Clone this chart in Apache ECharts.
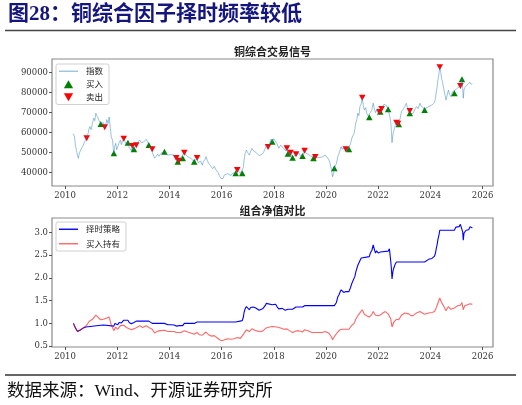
<!DOCTYPE html>
<html><head><meta charset="utf-8">
<script src="https://cdn.jsdelivr.net/npm/echarts@6/dist/echarts.min.js"></script>
<style>html,body{margin:0;padding:0;background:#fff}#c{width:522px;height:405px}</style>
</head><body><div id="c"></div>
<script>
// ---- data ----
const xTicks = [2010, 2012, 2014, 2016, 2018, 2020, 2022, 2024, 2026];
const priceTicks = [40000, 50000, 60000, 70000, 80000, 90000];
const navTicks = [0.5, 1.0, 1.5, 2.0, 2.5, 3.0];

const idxDates = [2010.32,2010.36,2010.40,2010.44,2010.48,2010.51,2010.55,2010.60,2010.65,2010.70,2010.75,2010.80,2010.83,2010.88,2010.92,2010.95,2011.00,2011.05,2011.10,2011.14,2011.18,2011.22,2011.27,2011.32,2011.37,2011.42,2011.47,2011.52,2011.56,2011.60,2011.65,2011.69,2011.73,2011.77,2011.82,2011.85,2011.87,2011.91,2011.94,2011.98,2012.02,2012.07,2012.12,2012.16,2012.20,2012.25,2012.30,2012.35,2012.41,2012.46,2012.50,2012.54,2012.58,2012.64,2012.68,2012.73,2012.78,2012.82,2012.86,2012.92,2012.97,2013.01,2013.06,2013.11,2013.16,2013.21,2013.27,2013.34,2013.38,2013.43,2013.48,2013.55,2013.60,2013.68,2013.74,2013.81,2013.87,2013.94,2014.00,2014.06,2014.12,2014.18,2014.22,2014.26,2014.32,2014.38,2014.44,2014.51,2014.57,2014.62,2014.70,2014.76,2014.82,2014.88,2014.95,2015.02,2015.06,2015.10,2015.14,2015.20,2015.26,2015.30,2015.36,2015.40,2015.45,2015.50,2015.56,2015.60,2015.66,2015.72,2015.78,2015.81,2015.86,2015.90,2015.94,2015.98,2016.02,2016.06,2016.10,2016.16,2016.23,2016.28,2016.36,2016.42,2016.48,2016.54,2016.60,2016.65,2016.72,2016.79,2016.83,2016.86,2016.90,2016.95,2017.00,2017.06,2017.11,2017.16,2017.21,2017.25,2017.31,2017.38,2017.44,2017.51,2017.57,2017.63,2017.67,2017.71,2017.78,2017.84,2017.90,2017.94,2018.00,2018.07,2018.12,2018.19,2018.26,2018.32,2018.38,2018.44,2018.50,2018.54,2018.60,2018.64,2018.68,2018.72,2018.78,2018.85,2018.90,2018.95,2019.02,2019.10,2019.18,2019.25,2019.33,2019.40,2019.46,2019.52,2019.59,2019.66,2019.72,2019.78,2019.85,2019.92,2019.97,2020.04,2020.10,2020.16,2020.20,2020.25,2020.29,2020.32,2020.36,2020.40,2020.45,2020.50,2020.54,2020.58,2020.62,2020.68,2020.72,2020.76,2020.82,2020.88,2020.94,2020.99,2021.03,2021.08,2021.11,2021.14,2021.18,2021.22,2021.26,2021.30,2021.35,2021.39,2021.43,2021.47,2021.52,2021.56,2021.61,2021.66,2021.70,2021.76,2021.81,2021.86,2021.90,2021.94,2022.00,2022.05,2022.10,2022.14,2022.18,2022.22,2022.27,2022.32,2022.38,2022.43,2022.48,2022.51,2022.53,2022.57,2022.60,2022.65,2022.70,2022.75,2022.79,2022.84,2022.89,2022.95,2023.02,2023.08,2023.12,2023.17,2023.21,2023.26,2023.30,2023.34,2023.40,2023.47,2023.53,2023.60,2023.65,2023.69,2023.74,2023.78,2023.85,2023.93,2024.00,2024.06,2024.11,2024.16,2024.20,2024.22,2024.26,2024.29,2024.33,2024.36,2024.40,2024.43,2024.47,2024.51,2024.55,2024.60,2024.64,2024.69,2024.74,2024.79,2024.85,2024.92,2024.98,2025.05,2025.10,2025.15,2025.21,2025.24,2025.26,2025.29,2025.32,2025.37,2025.42,2025.47,2025.52,2025.56,2025.61];
const idxValues = [59500,58000,53500,51000,48500,47200,49800,51300,50500,53800,55500,54800,57200,59500,62000,63000,61500,64700,67200,66000,69700,68500,67200,65500,64300,63500,65000,62700,64000,66500,64500,67800,63000,58000,56300,52000,49700,53500,54700,51500,52000,55000,56300,54000,55800,57000,55500,54000,55000,52500,53200,51000,53300,51700,52800,53700,55000,54200,56300,55000,54300,55300,54800,56700,55500,53850,52500,51700,49000,47200,48000,49200,48200,49700,49200,50500,49700,48800,49500,49000,48200,48800,47800,47300,45500,46200,47500,47200,50000,49000,48000,48600,47200,46500,45500,46000,47300,45000,44700,45800,43800,45500,46500,48000,46200,44700,43800,43000,42000,43200,41500,41000,40200,38800,38000,37000,37800,37200,38800,38000,39500,38800,38600,39800,39200,39700,41300,40500,39800,39700,42500,46300,49500,51300,50000,48800,50500,52200,51000,51500,50200,49700,48500,48000,49500,50800,52000,53800,52800,54500,56800,55500,57000,56700,54500,52200,53800,53300,52000,51000,52200,49400,49800,50000,48500,47500,48500,49200,48800,50200,48500,48300,51000,49500,49200,48500,47800,47200,47800,47000,47600,48200,47800,48400,48800,48000,46800,44500,42200,38000,39500,42200,43500,44500,48000,49500,51300,53000,51800,51200,52300,51700,51200,51700,54500,57200,58500,59700,62000,64700,66500,69700,68500,73000,74500,77500,73500,71300,72500,69700,68500,67700,70000,71500,74700,71500,70000,71300,69700,70200,71000,72000,73000,74200,74700,73500,71700,69000,65500,60000,55000,59500,61000,63500,65000,63800,64200,67000,70500,71500,73000,74700,72500,72000,70800,69500,68800,69700,71500,73000,72000,74700,73200,73000,72300,71300,72500,73000,72800,73800,74500,75200,77500,79700,83000,86300,89500,92700,90000,87000,85000,82000,79500,76300,78500,81300,79000,78000,80500,79700,81500,82500,81800,83300,86700,82000,77200,81500,82500,83200,84000,83500,85200,84200,84500];

const buyDates = [2011.37,2011.87,2012.41,2012.64,2013.21,2013.81,2014.32,2014.51,2014.95,2016.54,2016.79,2017.94,2018.54,2018.72,2019.10,2019.52,2020.32,2020.88,2021.66,2022.08,2022.38,2022.79,2023.21,2023.78,2024.92,2025.21];
const buyValues = [64300,49700,55000,51700,53850,50500,45500,47200,45500,39700,39700,55500,49400,47500,48300,47200,42200,51700,67700,70500,71700,64200,69700,71300,79700,86700];

const sellDates = [2010.83,2011.52,2012.25,2012.58,2012.73,2013.34,2014.26,2014.36,2014.57,2015.06,2016.60,2017.78,2018.50,2018.64,2018.85,2019.18,2019.59,2020.76,2021.39,2022.05,2022.13,2022.70,2022.76,2023.21,2024.36,2025.15];
const sellValues = [57200,62700,57000,53300,53700,51700,47300,46000,50000,47300,41300,52800,52200,50000,49200,51000,47800,51700,77500,70300,71800,65000,64400,70800,92700,83300];

const stratDates = [2010.32,2010.36,2010.40,2010.44,2010.48,2010.51,2010.55,2010.60,2010.65,2010.70,2010.75,2010.80,2010.83,2011.37,2011.42,2011.47,2011.52,2011.87,2011.91,2011.94,2011.98,2012.02,2012.07,2012.12,2012.16,2012.20,2012.25,2012.41,2012.46,2012.50,2012.54,2012.58,2012.64,2012.68,2012.73,2013.21,2013.27,2013.34,2013.81,2013.87,2013.94,2014.00,2014.06,2014.12,2014.18,2014.26,2014.32,2014.38,2014.51,2014.57,2014.95,2015.02,2015.06,2016.54,2016.60,2016.79,2016.83,2016.86,2016.90,2016.95,2017.00,2017.06,2017.11,2017.16,2017.21,2017.25,2017.31,2017.38,2017.44,2017.51,2017.57,2017.63,2017.67,2017.71,2017.78,2017.94,2018.00,2018.07,2018.12,2018.19,2018.26,2018.32,2018.38,2018.44,2018.50,2018.54,2018.60,2018.64,2018.72,2018.78,2018.85,2019.10,2019.18,2020.32,2020.36,2020.40,2020.45,2020.50,2020.54,2020.58,2020.62,2020.68,2020.72,2020.76,2020.88,2020.94,2020.99,2021.03,2021.06,2021.11,2021.14,2021.18,2021.22,2021.26,2021.30,2021.35,2021.39,2021.66,2021.70,2021.76,2021.81,2021.86,2021.90,2021.94,2022.00,2022.05,2022.08,2022.12,2022.38,2022.43,2022.48,2022.51,2022.53,2022.57,2022.60,2022.65,2022.70,2023.78,2023.85,2023.93,2024.00,2024.06,2024.11,2024.16,2024.20,2024.22,2024.26,2024.29,2024.33,2024.36,2024.92,2024.98,2025.05,2025.10,2025.15,2025.21,2025.24,2025.26,2025.29,2025.32,2025.37,2025.42,2025.47,2025.52,2025.56,2025.61];
const stratValues = [1.00,0.975,0.90,0.86,0.82,0.81,0.84,0.86,0.85,0.90,0.93,0.92,0.96,0.96,0.945,0.965,0.94,0.94,1.00,1.02,0.96,0.97,1.02,1.05,1.01,1.04,1.07,1.07,1.02,1.03,0.99,1.02,1.02,1.04,1.05,1.05,1.02,1.00,1.00,0.99,0.97,0.98,0.97,0.955,0.965,0.94,0.94,0.95,0.95,1.00,1.00,1.01,1.03,1.03,1.06,1.06,1.13,1.24,1.32,1.37,1.34,1.30,1.35,1.39,1.36,1.38,1.34,1.33,1.29,1.28,1.32,1.36,1.39,1.44,1.41,1.41,1.43,1.42,1.37,1.32,1.35,1.33,1.30,1.29,1.31,1.31,1.30,1.31,1.31,1.34,1.36,1.36,1.39,1.39,1.43,1.46,1.58,1.63,1.69,1.74,1.70,1.68,1.72,1.70,1.70,1.79,1.88,1.92,1.87,2.04,2.13,2.17,2.28,2.24,2.38,2.44,2.47,2.47,2.55,2.61,2.73,2.61,2.55,2.60,2.55,2.57,2.57,2.59,2.59,2.64,2.38,2.18,1.98,2.16,2.22,2.30,2.35,2.35,2.39,2.41,2.40,2.43,2.46,2.48,2.56,2.63,2.74,2.85,2.95,3.05,3.05,3.12,3.16,3.13,3.18,3.18,3.01,2.83,2.99,3.03,3.05,3.08,3.06,3.13,3.09,3.10];

const holdDates = [2010.32,2010.40,2010.48,2010.51,2010.60,2010.70,2010.83,2010.92,2011.05,2011.10,2011.18,2011.27,2011.37,2011.47,2011.52,2011.60,2011.69,2011.77,2011.87,2011.94,2012.02,2012.12,2012.25,2012.35,2012.46,2012.54,2012.68,2012.78,2012.86,2012.97,2013.11,2013.21,2013.34,2013.43,2013.55,2013.68,2013.81,2013.94,2014.06,2014.18,2014.26,2014.32,2014.44,2014.57,2014.70,2014.82,2014.95,2015.06,2015.14,2015.26,2015.40,2015.50,2015.60,2015.72,2015.81,2015.90,2015.98,2016.06,2016.10,2016.23,2016.36,2016.48,2016.60,2016.72,2016.79,2016.86,2016.95,2017.06,2017.16,2017.31,2017.44,2017.57,2017.71,2017.84,2017.94,2018.00,2018.12,2018.26,2018.38,2018.50,2018.60,2018.72,2018.85,2018.95,2019.10,2019.18,2019.33,2019.46,2019.59,2019.72,2019.85,2019.97,2020.10,2020.20,2020.25,2020.32,2020.45,2020.54,2020.62,2020.76,2020.88,2020.99,2021.08,2021.14,2021.22,2021.30,2021.39,2021.47,2021.56,2021.66,2021.76,2021.81,2021.90,2022.00,2022.10,2022.18,2022.27,2022.38,2022.48,2022.53,2022.60,2022.70,2022.79,2022.89,2023.02,2023.08,2023.17,2023.26,2023.34,2023.47,2023.60,2023.69,2023.78,2023.93,2024.06,2024.16,2024.22,2024.29,2024.36,2024.43,2024.51,2024.60,2024.69,2024.79,2024.92,2025.05,2025.15,2025.21,2025.26,2025.32,2025.42,2025.52,2025.61];
const holdValues = [1.00,0.90,0.82,0.81,0.86,0.90,0.96,1.04,1.09,1.13,1.18,1.13,1.08,1.09,1.05,1.12,1.14,0.97,0.84,0.92,0.87,0.95,0.96,0.91,0.88,0.86,0.89,0.92,0.95,0.91,0.95,0.91,0.87,0.79,0.83,0.84,0.85,0.82,0.82,0.82,0.80,0.76,0.80,0.84,0.81,0.79,0.76,0.80,0.75,0.74,0.81,0.75,0.72,0.73,0.69,0.65,0.62,0.63,0.65,0.66,0.65,0.66,0.69,0.67,0.67,0.78,0.86,0.82,0.88,0.84,0.82,0.83,0.90,0.92,0.93,0.96,0.92,0.90,0.87,0.88,0.84,0.80,0.83,0.84,0.81,0.86,0.83,0.80,0.80,0.80,0.80,0.82,0.79,0.71,0.64,0.71,0.81,0.86,0.87,0.87,0.87,0.96,1.00,1.09,1.17,1.23,1.30,1.20,1.17,1.14,1.20,1.26,1.18,1.17,1.19,1.23,1.26,1.21,1.10,0.92,1.03,1.09,1.08,1.18,1.23,1.26,1.21,1.17,1.17,1.23,1.26,1.23,1.20,1.23,1.24,1.26,1.34,1.45,1.56,1.46,1.38,1.28,1.37,1.31,1.34,1.39,1.40,1.46,1.30,1.39,1.41,1.43,1.42];

// ---- build chart ----
function pairs(xs, ys) { return xs.map((x, i) => [x, ys[i]]); }
const serif = 'DejaVu Serif';
const sans = 'Noto Sans CJK SC';
const tickFont = { fontFamily: serif, fontSize: 8.5, color: '#333' };
const lineIcon = 'path://M0,0L19,0L19,1.4L0,1.4Z';
const upTri = 'path://M5,0L10,8.66L0,8.66Z';
const downTri = 'path://M0,0L10,0L5,8.66Z';

function xAxis(gridIndex) {
  return {
    type: 'value', gridIndex, min: 2009.5, max: 2026.4,
    axisLine: { show: false },
    axisTick: { show: true, length: 3, lineStyle: { color: '#555' }, customValues: xTicks },
    axisLabel: Object.assign({ margin: 5, customValues: xTicks, formatter: v => String(Math.round(v)) }, tickFont),
    splitLine: { show: false }
  };
}

const legendBase = {
  orient: 'vertical', left: 56, itemWidth: 19, itemHeight: 8, symbolKeepAspect: true,
  backgroundColor: '#fff', borderColor: '#d0d0d0', borderWidth: 1, borderRadius: 2, padding: [3, 6, 3, 3],
  textStyle: { fontFamily: sans, fontSize: 8.5, color: '#222', padding: [0, 0, 0, 3] }
};

const chart = echarts.init(document.getElementById('c'), null, { renderer: 'canvas' });
chart.setOption({
  animation: false,
  backgroundColor: '#fff',
  grid: [
    { left: 52, top: 59, width: 441, height: 127, show: true, borderColor: '#8a8a8a', borderWidth: 1.2, backgroundColor: '#fff' },
    { left: 52, top: 218, width: 441, height: 129, show: true, borderColor: '#8a8a8a', borderWidth: 1.2, backgroundColor: '#fff' }
  ],
  xAxis: [xAxis(0), xAxis(1)],
  yAxis: [
    { type: 'value', gridIndex: 0, min: 33350, max: 96800,
      axisLine: { show: false }, splitLine: { show: false },
      axisTick: { show: true, length: 3, lineStyle: { color: '#555' }, customValues: priceTicks },
      axisLabel: Object.assign({ margin: 4, customValues: priceTicks, formatter: v => String(Math.round(v)) }, tickFont) },
    { type: 'value', gridIndex: 1, min: 0.48, max: 3.32,
      axisLine: { show: false }, splitLine: { show: false },
      axisTick: { show: true, length: 3, lineStyle: { color: '#555' }, customValues: navTicks },
      axisLabel: Object.assign({ margin: 4, customValues: navTicks, formatter: v => v.toFixed(1) }, tickFont) }
  ],
  legend: [
    Object.assign({}, legendBase, { top: 64, itemGap: 4.5,
      data: [{ name: '指数', icon: lineIcon }, { name: '买入', icon: upTri }, { name: '卖出', icon: downTri }] }),
    Object.assign({}, legendBase, { top: 222, itemGap: 6,
      data: [{ name: '择时策略', icon: lineIcon }, { name: '买入持有', icon: lineIcon }] })
  ],
  series: [
    { name: '指数', type: 'line', xAxisIndex: 0, yAxisIndex: 0, symbol: 'none', data: pairs(idxDates, idxValues),
      lineStyle: { color: 'rgba(31,119,180,0.45)', width: 1 }, itemStyle: { color: 'rgba(31,119,180,0.45)' } },
    { name: '买入', type: 'scatter', xAxisIndex: 0, yAxisIndex: 0, symbol: upTri, symbolSize: [6.5, 6],
      data: pairs(buyDates, buyValues), itemStyle: { color: '#008000', opacity: 1 } },
    { name: '卖出', type: 'scatter', xAxisIndex: 0, yAxisIndex: 0, symbol: downTri, symbolSize: [6.5, 6],
      data: pairs(sellDates, sellValues), itemStyle: { color: '#ff0000', opacity: 1 } },
    { name: '择时策略', type: 'line', xAxisIndex: 1, yAxisIndex: 1, symbol: 'none', data: pairs(stratDates, stratValues),
      lineStyle: { color: '#0000ff', width: 1.1 }, itemStyle: { color: '#0000ff' } },
    { name: '买入持有', type: 'line', xAxisIndex: 1, yAxisIndex: 1, symbol: 'none', data: pairs(holdDates, holdValues),
      lineStyle: { color: 'rgba(255,0,0,0.6)', width: 1.1 }, itemStyle: { color: 'rgba(255,0,0,0.6)' } }
  ],
  graphic: [
    { type: 'text', left: 8, top: 4, style: { text: '图28：铜综合因子择时频率较低', font: 'bold 21px "Liberation Serif", "Noto Sans CJK SC"', fill: '#14167e' } },
    { type: 'line', shape: { x1: 5, y1: 30.5, x2: 516, y2: 30.5 }, style: { stroke: '#444', lineWidth: 1.5 } },
    { type: 'text', x: 272.5, y: 52, style: { text: '铜综合交易信号', font: 'bold 11px "Noto Sans CJK SC"', fill: '#222', align: 'center', verticalAlign: 'middle' } },
    { type: 'text', x: 272.5, y: 211, style: { text: '组合净值对比', font: 'bold 11px "Noto Sans CJK SC"', fill: '#222', align: 'center', verticalAlign: 'middle' } },
    { type: 'line', shape: { x1: 5, y1: 375, x2: 516, y2: 375 }, style: { stroke: '#333', lineWidth: 1.5 } },
    { type: 'text', x: 7, y: 391, style: { text: '数据来源：Wind、开源证券研究所', font: '17.5px "Liberation Serif", "Noto Sans CJK SC"', fill: '#111', verticalAlign: 'middle' } }
  ]
});
</script></body></html>
